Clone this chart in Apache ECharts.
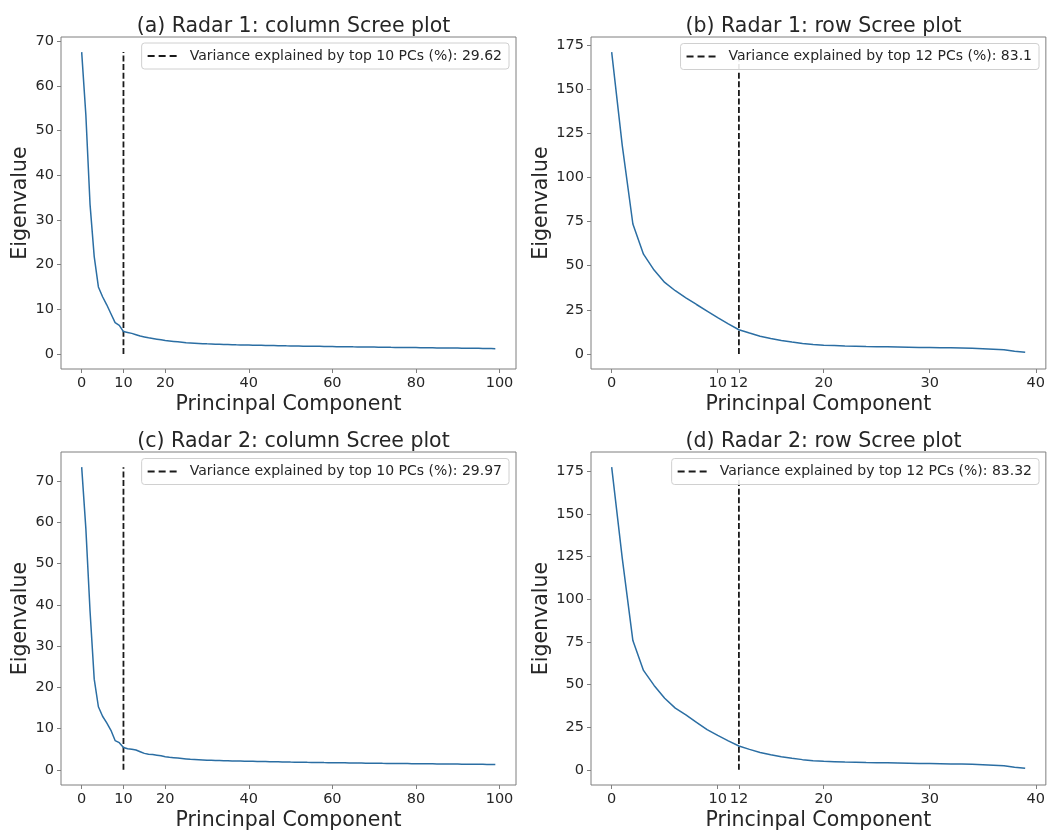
<!DOCTYPE html>
<html>
<head>
<meta charset="utf-8">
<script src="https://cdn.jsdelivr.net/npm/echarts@6/dist/echarts.min.js"></script>
<style>
html,body{margin:0;padding:0;background:#fff;}
#chart{width:1048px;height:832px;}
</style>
</head>
<body>
<div id="chart"></div>
<script>
// ---- Data ----
const titles = [
  "(a) Radar 1: column Scree plot",
  "(b) Radar 1: row Scree plot",
  "(c) Radar 2: column Scree plot",
  "(d) Radar 2: row Scree plot"
];
const legendLabels = [
  "Variance explained by top 10 PCs (%): 29.62",
  "Variance explained by top 12 PCs (%): 83.1",
  "Variance explained by top 10 PCs (%): 29.97",
  "Variance explained by top 12 PCs (%): 83.32"
];
const cutoffs = [10, 12, 10, 12];

const radar1Column = [
  67.6, 53.5, 33.5, 21.8, 15.0, 12.8, 11.0, 9.0, 7.0, 6.4,
  5.0, 4.8, 4.6, 4.3, 4.0, 3.8, 3.6, 3.45, 3.3, 3.15,
  3.0, 2.9, 2.8, 2.7, 2.6, 2.5, 2.45, 2.4, 2.35, 2.3,
  2.25, 2.22, 2.19, 2.16, 2.13, 2.1, 2.07, 2.04, 2.02, 2.0,
  1.98, 1.96, 1.94, 1.92, 1.9, 1.88, 1.86, 1.84, 1.82, 1.8,
  1.79, 1.77, 1.76, 1.74, 1.73, 1.72, 1.7, 1.69, 1.67, 1.66,
  1.65, 1.63, 1.62, 1.61, 1.6, 1.58, 1.57, 1.56, 1.55, 1.53,
  1.52, 1.51, 1.5, 1.49, 1.47, 1.46, 1.45, 1.44, 1.43, 1.42,
  1.41, 1.4, 1.38, 1.37, 1.36, 1.35, 1.34, 1.33, 1.32, 1.31,
  1.3, 1.28, 1.27, 1.26, 1.25, 1.24, 1.22, 1.21, 1.19, 1.15
];
const radar1Row = [
  171, 118, 73.6, 56.5, 47.5, 40.5, 35.8, 31.8, 28.0, 24.3,
  20.6, 17.0, 13.7, 11.8, 10.0, 8.7, 7.6, 6.7, 5.9, 5.3,
  4.9, 4.7, 4.5, 4.35, 4.2, 4.1, 4.0, 3.9, 3.8, 3.7,
  3.65, 3.55, 3.45, 3.35, 3.2, 2.9, 2.6, 2.3, 1.5, 1.0
];
const radar2Column = [
  73.4, 58.5, 38.5, 22.0, 15.3, 13.0, 11.4, 9.6, 7.1, 6.6,
  5.4, 5.1, 5.0, 4.8, 4.4, 4.0, 3.8, 3.7, 3.55, 3.4,
  3.2, 3.05, 2.95, 2.85, 2.75, 2.65, 2.55, 2.5, 2.45, 2.4,
  2.35, 2.32, 2.29, 2.26, 2.23, 2.2, 2.17, 2.14, 2.12, 2.1,
  2.08, 2.06, 2.04, 2.02, 2.0, 1.98, 1.96, 1.94, 1.92, 1.9,
  1.88, 1.87, 1.85, 1.84, 1.82, 1.81, 1.79, 1.78, 1.76, 1.75,
  1.74, 1.72, 1.71, 1.7, 1.68, 1.67, 1.66, 1.65, 1.63, 1.62,
  1.61, 1.6, 1.58, 1.57, 1.56, 1.55, 1.54, 1.53, 1.52, 1.51,
  1.5, 1.49, 1.48, 1.47, 1.46, 1.45, 1.44, 1.43, 1.42, 1.41,
  1.4, 1.39, 1.38, 1.37, 1.36, 1.35, 1.34, 1.33, 1.31, 1.28
];
const radar2Row = [
  177.5, 124, 75.8, 58.3, 49.5, 42.0, 36.2, 32.2, 27.9, 23.6,
  20.2, 17.0, 14.0, 12.0, 10.2, 8.8, 7.7, 6.8, 6.0, 5.4,
  5.0, 4.8, 4.6, 4.45, 4.3, 4.2, 4.1, 4.0, 3.9, 3.8,
  3.7, 3.6, 3.5, 3.4, 3.3, 3.0, 2.7, 2.4, 1.6, 1.0
];
const xTicksColumn = [0, 10, 20, 40, 60, 80, 100];
const xTicksRow = [0, 10, 12, 20, 30, 40];
const yTicksColumn = [0, 10, 20, 30, 40, 50, 60, 70];
const yTicksRow = [0, 25, 50, 75, 100, 125, 150, 175];

const panels = [
  {values: radar1Column, xTicks: xTicksColumn, yTicks: yTicksColumn},
  {values: radar1Row, xTicks: xTicksRow, yTicks: yTicksRow},
  {values: radar2Column, xTicks: xTicksColumn, yTicks: yTicksColumn},
  {values: radar2Row, xTicks: xTicksRow, yTicks: yTicksRow}
];

// ---- Layout ----
const FONT = "DejaVu Sans";
const grids = [
  {left: 61, top: 37, width: 455, height: 332},
  {left: 591, top: 37, width: 455, height: 332},
  {left: 61, top: 452, width: 455, height: 333},
  {left: 591, top: 452, width: 455, height: 333}
];
const yNameGaps = [26.5, 28.5, 26.5, 28.5];
const legendPos = [
  {right: 539, top: 43},
  {right: 9, top: 43.5},
  {right: 539, top: 458.5},
  {right: 9, top: 458.5}
];
const spineColor = "#7f7f7f";
const textColor = "#262626";
const curveColor = "#2b6ea3";
const dashIcon = "path://M0,0h7v2h-7zM11,0h7v2h-7zM22,0h7v2h-7z";

const option = {
  animation: false,
  backgroundColor: "#fff",
  textStyle: {fontFamily: FONT},
  title: [],
  grid: [],
  xAxis: [],
  yAxis: [],
  legend: [],
  series: []
};

panels.forEach((p, k) => {
  const g = grids[k];
  const n = p.values.length;
  const ymaxData = Math.max(...p.values);
  const yspan = ymaxData - 0;
  const xspan = n - 1;
  option.title.push({
    text: titles[k],
    left: g.left + g.width / 2,
    top: g.top - 26,
    textAlign: "center",
    textStyle: {fontFamily: FONT, fontSize: 20.5, fontWeight: "normal", color: textColor}
  });
  option.grid.push({
    left: g.left, top: g.top, width: g.width, height: g.height,
    show: true, borderColor: spineColor, borderWidth: 1, backgroundColor: "transparent",
    containLabel: false
  });
  option.xAxis.push({
    type: "value",
    gridIndex: k,
    position: "bottom",
    min: -0.05 * xspan,
    max: xspan * 1.05,
    name: "Princinpal Component",
    nameLocation: "middle",
    nameGap: 25,
    nameTextStyle: {fontFamily: FONT, fontSize: 20.5, color: textColor, verticalAlign: "top"},
    splitLine: {show: false},
    axisLine: {show: false, onZero: false},
    axisTick: {show: true, length: 4, lineStyle: {color: spineColor}, customValues: p.xTicks},
    axisLabel: {fontFamily: FONT, fontSize: 14.5, color: textColor, margin: 7, customValues: p.xTicks}
  });
  option.yAxis.push({
    type: "value",
    gridIndex: k,
    position: "left",
    min: -0.05 * yspan,
    max: ymaxData + 0.05 * yspan,
    name: "Eigenvalue",
    nameLocation: "middle",
    nameGap: yNameGaps[k],
    nameRotate: 90,
    nameTextStyle: {fontFamily: FONT, fontSize: 20.5, color: textColor},
    splitLine: {show: false},
    axisLine: {show: false, onZero: false},
    axisTick: {show: true, length: 4, lineStyle: {color: spineColor}, customValues: p.yTicks},
    axisLabel: {fontFamily: FONT, fontSize: 14.5, color: textColor, margin: 7, customValues: p.yTicks}
  });
  option.series.push({
    name: "eigen" + k,
    type: "line",
    xAxisIndex: k,
    yAxisIndex: k,
    data: p.values.map((v, i) => [i, v]),
    symbol: "none",
    lineStyle: {color: curveColor, width: 1.5},
    z: 3
  });
  option.series.push({
    name: legendLabels[k],
    type: "line",
    xAxisIndex: k,
    yAxisIndex: k,
    data: [[cutoffs[k], 0], [cutoffs[k], ymaxData]],
    symbol: "none",
    itemStyle: {color: "#1a1a1a"},
    lineStyle: {color: "#1a1a1a", width: 1.8, type: [6, 2.6]},
    z: 2
  });
  option.legend.push(Object.assign({
    data: [{name: legendLabels[k], icon: dashIcon}],
    orient: "horizontal",
    backgroundColor: "rgba(255,255,255,0.9)",
    borderColor: "#d0d0d0",
    borderWidth: 1,
    borderRadius: 3,
    padding: [5, 7, 5, 6],
    itemWidth: 29,
    itemHeight: 2,
    selectedMode: false,
    itemStyle: {color: "#1a1a1a"},
    textStyle: {fontFamily: FONT, fontSize: 14, lineHeight: 16, color: textColor, padding: [0, 0, 0, 8]},
    z: 10
  }, legendPos[k]));
});

const chart = echarts.init(document.getElementById("chart"), null, {renderer: "canvas"});
chart.setOption(option);
</script>
</body>
</html>
